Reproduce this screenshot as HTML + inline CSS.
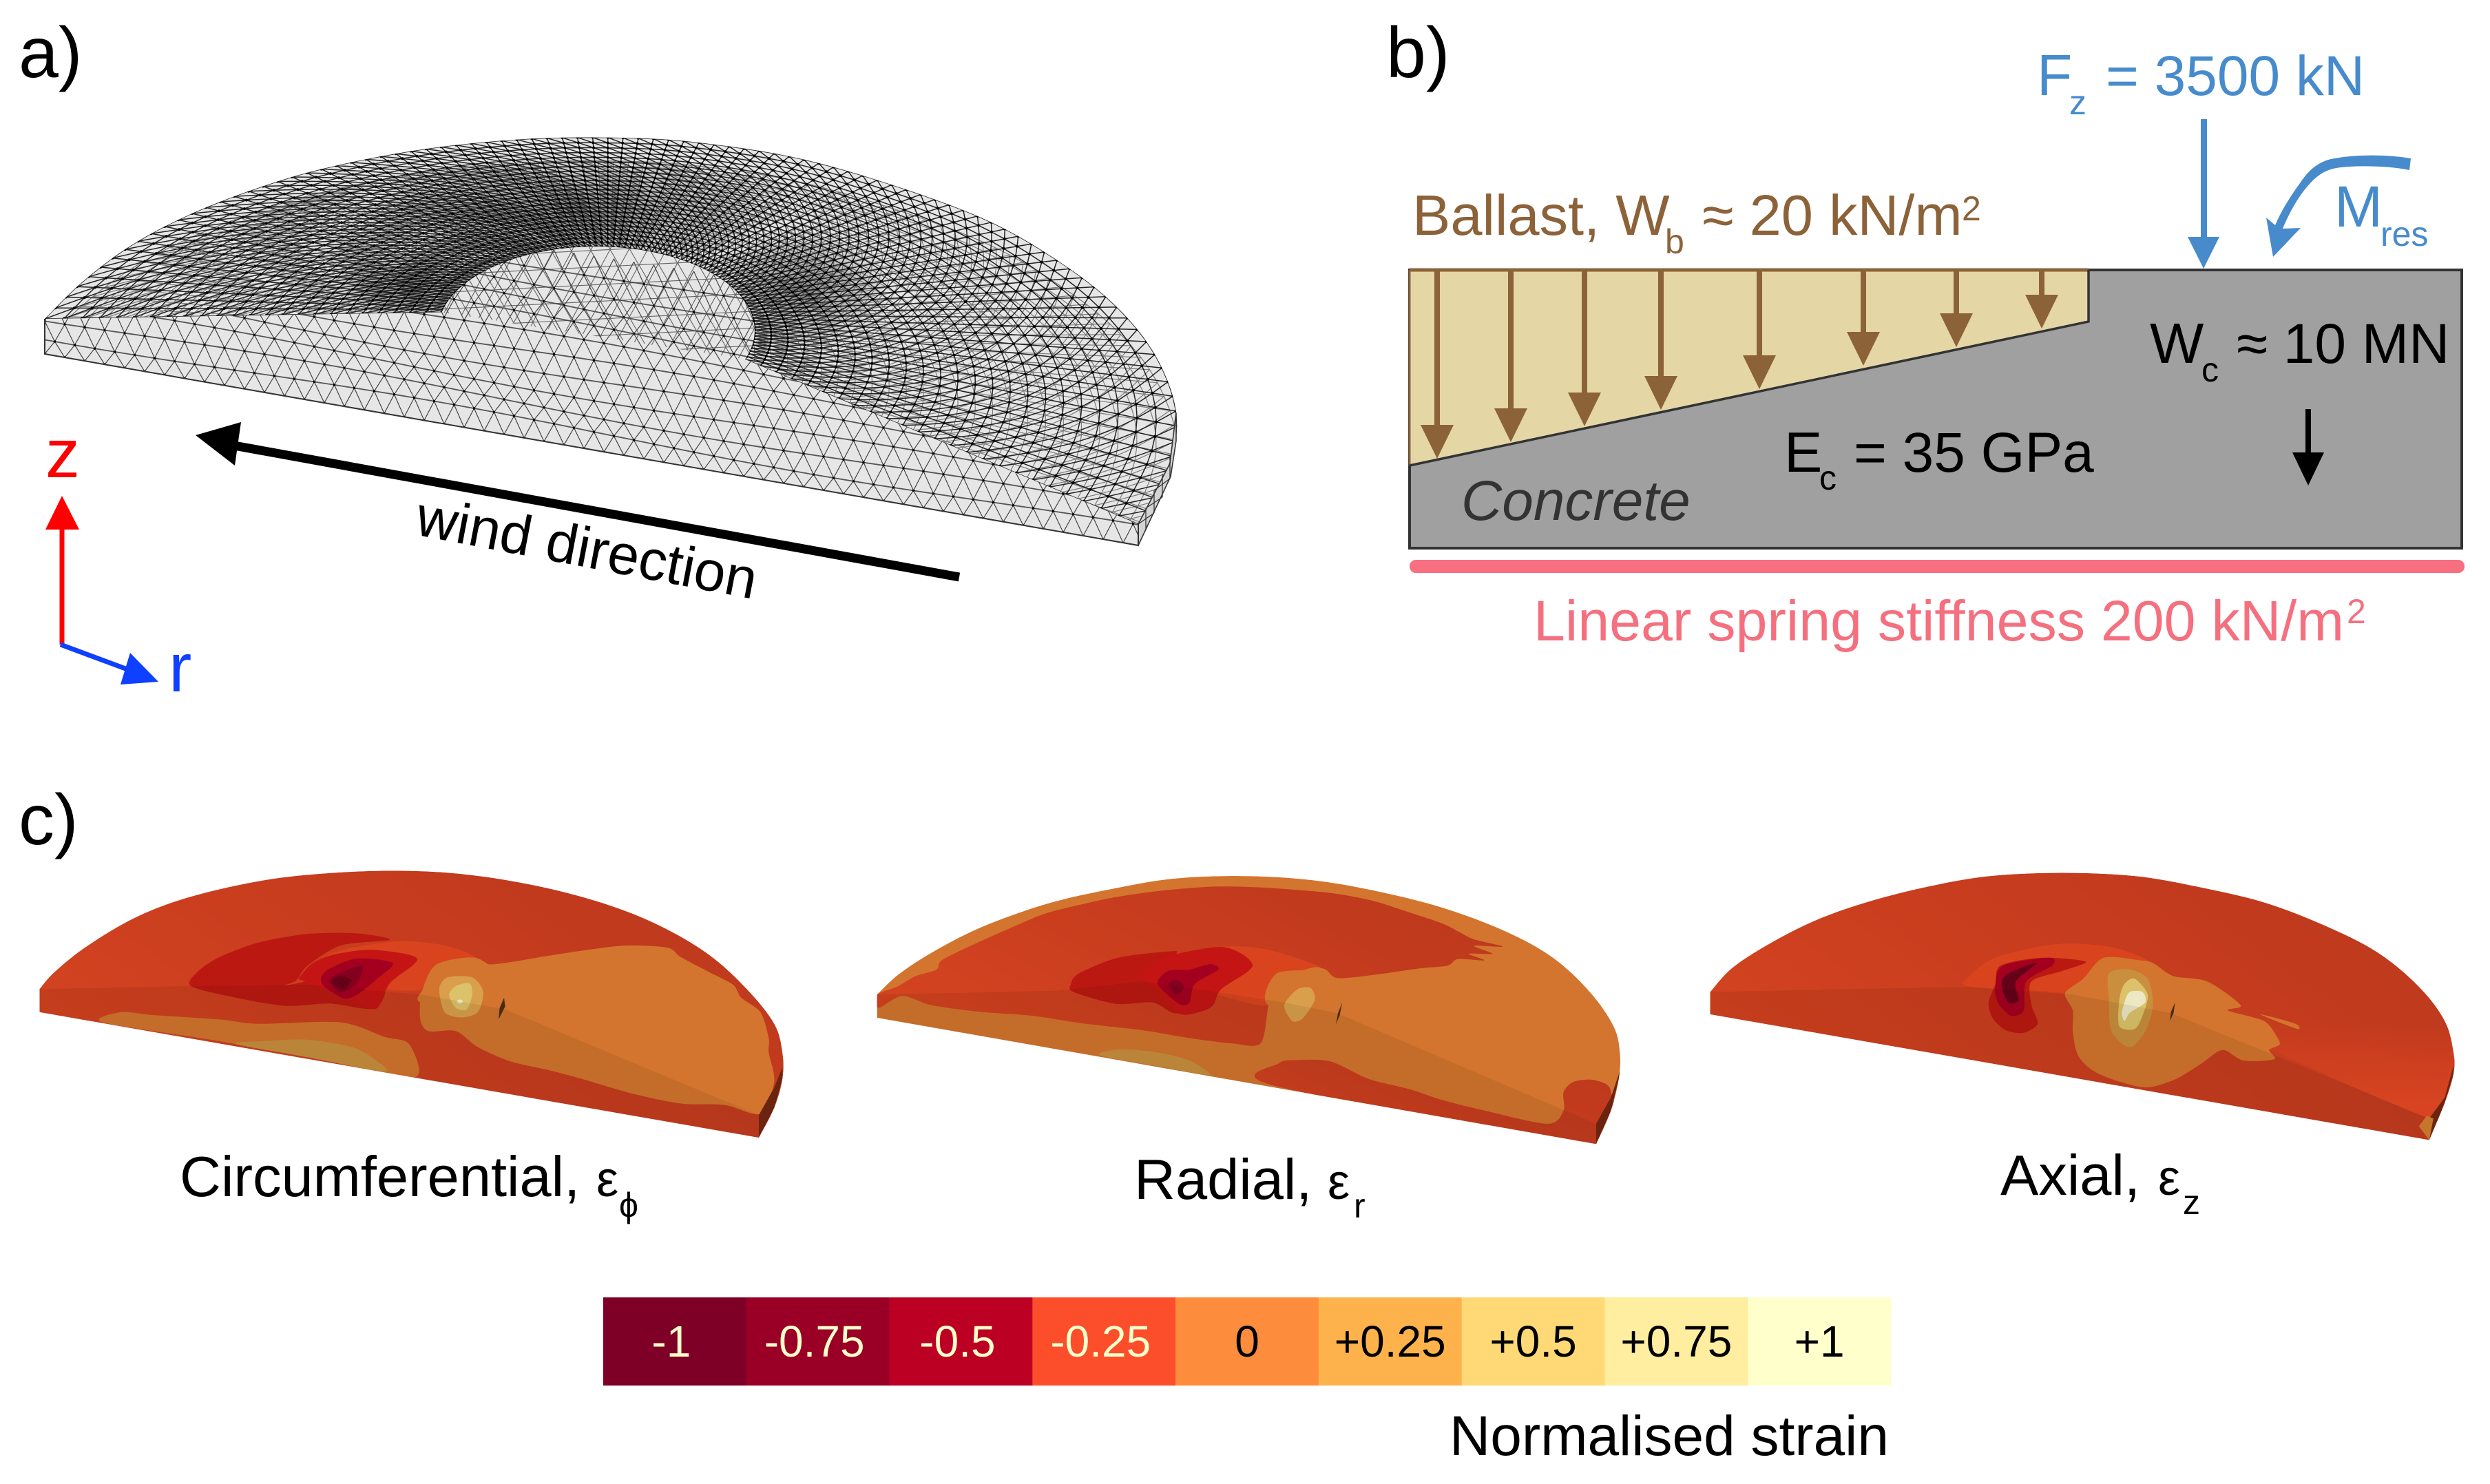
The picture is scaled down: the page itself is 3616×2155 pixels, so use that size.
<!DOCTYPE html>
<html lang="en">
<head>
<meta charset="utf-8">
<title>Foundation mesh, loads and normalised strain</title>
<style>
html,body{margin:0;padding:0;background:#fff;}
body{width:3616px;height:2155px;overflow:hidden;}
svg{display:block;font-family:"Liberation Sans",Arial,sans-serif;}
</style>
</head>
<body>
<svg id="fig" width="3616" height="2155" viewBox="0 0 3616 2155" xmlns="http://www.w3.org/2000/svg">
<defs>
<linearGradient id="redTop" x1="0" y1="0.6" x2="1" y2="0.1">
<stop offset="0" stop-color="#d34320"/><stop offset="0.55" stop-color="#c63c1e"/><stop offset="1" stop-color="#bc381d"/>
</linearGradient>
<linearGradient id="litFade" x1="0.5" y1="0.12" x2="0.5" y2="0.85">
<stop offset="0" stop-color="#d84421" stop-opacity="0"/><stop offset="1" stop-color="#d84421" stop-opacity="1"/>
</linearGradient>
<radialGradient id="blob"><stop offset="0" stop-color="#000" stop-opacity="0.38"/><stop offset="1" stop-color="#000" stop-opacity="0"/></radialGradient>
<clipPath id="meshClip"><path id="meshClipPath" d=""/></clipPath>
<clipPath id="frontClip"><path id="frontClipPath" d=""/></clipPath>
<clipPath id="hillClip"><path id="hillClipPath" d=""/></clipPath>
</defs>

<rect width="3616" height="2155" fill="#fff"/>

<!-- Panel a -->
<text x="27" y="112" font-size="104">a)</text>
<g id="meshGroup"></g>
<g>
<line x1="1393" y1="838" x2="340" y2="647" stroke="#000" stroke-width="13"/>
<polygon points="284,632 350,613 341,676" fill="#000"/>
</g>
<text transform="translate(601,776) rotate(10.8)" font-size="82">wind direction</text>
<g>
<line x1="90" y1="936" x2="90" y2="765" stroke="#f00" stroke-width="7"/>
<polygon points="90,720 66,769 115,769" fill="#f00"/>
<line x1="88" y1="936" x2="185" y2="972" stroke="#0f3fff" stroke-width="7"/>
<polygon points="230,990 189,948 175,994" fill="#0f3fff"/>
<text x="66" y="693" font-size="100" fill="#f00">z</text>
<text x="245" y="1004" font-size="100" fill="#0f3fff">r</text>
</g>

<!-- Panel b -->
<text x="2013" y="112" font-size="104">b)</text>
<g>
<rect x="2047" y="392" width="1528" height="404" fill="#a0a0a0" stroke="#333" stroke-width="4"/>
<polygon points="2047,392 3033,392 3033,467 2047,676" fill="#e5d6a6"/>
<line x1="2047" y1="392" x2="3033" y2="392" stroke="#8c6239" stroke-width="5"/>
<line x1="2047" y1="392" x2="2047" y2="676" stroke="#8c6239" stroke-width="3"/>
<polyline points="2047,676 3033,467 3033,392" fill="none" stroke="#333" stroke-width="3.5"/>
</g>
<g stroke="none" fill="#8c6239">
<g><rect x="2083" y="392" width="8" height="230"/><polygon points="2087,666 2063,617 2111,617"/></g>
<g><rect x="2190" y="392" width="8" height="206"/><polygon points="2194,642 2170,593 2218,593"/></g>
<g><rect x="2297" y="392" width="8" height="183"/><polygon points="2301,619 2277,570 2325,570"/></g>
<g><rect x="2408" y="392" width="8" height="159"/><polygon points="2412,595 2388,546 2436,546"/></g>
<g><rect x="2551" y="392" width="8" height="129"/><polygon points="2555,565 2531,516 2579,516"/></g>
<g><rect x="2702" y="392" width="8" height="95"/><polygon points="2706,531 2682,482 2730,482"/></g>
<g><rect x="2837" y="392" width="8" height="68"/><polygon points="2841,504 2817,455 2865,455"/></g>
<g><rect x="2961" y="392" width="8" height="41"/><polygon points="2965,477 2941,428 2989,428"/></g>
</g>
<g fill="#8c6239">
<text x="2051" y="341" font-size="83">Ballast, W</text>
<text x="2418" y="368" font-size="50">b</text>
<text x="2472" y="341" font-size="83">≈ 20 kN/m</text>
<text x="2849" y="320" font-size="50">2</text>
</g>
<g fill="#478bcd">
<text x="2958" y="138" font-size="84">F</text>
<text x="3005" y="166" font-size="50">z</text>
<text x="3058" y="138" font-size="82">= 3500 kN</text>
<rect x="3196" y="173" width="9" height="175"/>
<polygon points="3200,390 3177,344 3223,344"/>
</g>
<g fill="#478bcd">
<path d="M3501,230 C3465,224 3420,224 3385,231 C3365,236 3352,248 3340,266 C3324,288 3312,308 3304,327 L3291,316 L3301,373 L3341,331 L3315,332 C3324,310 3338,284 3355,266 C3368,252 3380,245 3400,243 C3430,240 3470,241 3499,247 Z"/>
<text x="3390" y="329" font-size="84">M</text>
<text x="3457" y="357" font-size="50">res</text>
</g>
<g fill="#000">
<text x="3122" y="527" font-size="83">W</text>
<text x="3197" y="554" font-size="50">c</text>
<text x="3248" y="527" font-size="82">≈ 10 MN</text>
<rect x="3348" y="594" width="8" height="68"/>
<polygon points="3352,705 3329,657 3375,657"/>
</g>
<g fill="#000">
<text x="2591" y="685" font-size="83">E</text>
<text x="2642" y="711" font-size="50">c</text>
<text x="2692" y="685" font-size="82">= 35 GPa</text>
</g>
<text x="2122" y="755" font-size="82" font-style="italic" fill="#333">Concrete</text>
<rect x="2047" y="813" width="1532" height="19" rx="9" fill="#f76f80"/>
<g fill="#f4707f">
<text x="2227" y="930" font-size="82.5">Linear spring stiffness 200 kN/m</text>
<text x="3408" y="905" font-size="50">2</text>
</g>

<!-- Panel c -->
<text x="27" y="1226" font-size="104">c)</text>
<g id="disks"></g>
<g>
<text x="261" y="1737" font-size="83">Circumferential,</text>
<text x="866" y="1737" font-size="72">ε</text>
<text x="899" y="1767" font-size="50">ϕ</text>
</g>
<g>
<text x="1647" y="1741" font-size="83">Radial,</text>
<text x="1928" y="1741" font-size="72">ε</text>
<text x="1966" y="1768" font-size="50">r</text>
</g>
<g>
<text x="2905" y="1735" font-size="83">Axial,</text>
<text x="3134" y="1735" font-size="72">ε</text>
<text x="3170" y="1763" font-size="50">z</text>
</g>

<g id="colorbar"></g>
<text x="2743" y="2113" text-anchor="end" font-size="82">Normalised strain</text>

<script>
// ---- colour bar values ----
const legendValues = [-1, -0.75, -0.5, -0.25, 0, 0.25, 0.5, 0.75, 1];
const legendLabels = ['-1', '-0.75', '-0.5', '-0.25', '0', '+0.25', '+0.5', '+0.75', '+1'];
const legendColors = ['#7f0026', '#9a0026', '#bb0024', '#fc4e2a', '#fd8d3c', '#feb24c', '#fed976', '#ffeda0', '#ffffcc'];

const NS = 'http://www.w3.org/2000/svg';
const legendLeft = 876, legendRight = 2746;
function legendEdge(v) {
  return legendLeft + (v + 1.125) / 2.25 * (legendRight - legendLeft);
}
const colorbar = document.getElementById('colorbar');
legendValues.forEach(function (v, i) {
  const cell = document.createElementNS(NS, 'rect');
  
  
  cell.setAttribute('x', legendEdge(v - 0.125));
  cell.setAttribute('y', 1884);
  cell.setAttribute('width', legendEdge(v + 0.125) - legendEdge(v - 0.125) + 0.5);
  cell.setAttribute('height', 128);
  cell.setAttribute('fill', legendColors[i]);
  colorbar.appendChild(cell);
  const label = document.createElementNS(NS, 'text');
  
  
  label.setAttribute('x', legendEdge(v) + (v < 0 ? -5 : 0));
  label.setAttribute('y', 1970);
  label.setAttribute('text-anchor', 'middle');
  label.setAttribute('font-size', 64);
  label.setAttribute('fill', v < 0 ? '#ffffcc' : '#000');
  label.textContent = legendLabels[i];
  colorbar.appendChild(label);
});

// ---- smoothing helpers ----
function crPoint(a, b, c, d, t) {
  const t2 = t * t, t3 = t2 * t;
  return [
    0.5 * (2 * b[0] + (c[0] - a[0]) * t + (2 * a[0] - 5 * b[0] + 4 * c[0] - d[0]) * t2 + (3 * b[0] - a[0] - 3 * c[0] + d[0]) * t3),
    0.5 * (2 * b[1] + (c[1] - a[1]) * t + (2 * a[1] - 5 * b[1] + 4 * c[1] - d[1]) * t2 + (3 * b[1] - a[1] - 3 * c[1] + d[1]) * t3)
  ];
}
function smoothClosed(p) {
  const n = p.length;
  let d = 'M' + p[0][0] + ',' + p[0][1];
  for (let i = 0; i < n; i++) {
    const a = p[(i - 1 + n) % n], b = p[i], c = p[(i + 1) % n], e = p[(i + 2) % n];
    const tn = 0.14;
    d += 'C' + (b[0] + (c[0] - a[0]) * tn).toFixed(1) + ',' + (b[1] + (c[1] - a[1]) * tn).toFixed(1) + ' ' +
      (c[0] - (e[0] - b[0]) * tn).toFixed(1) + ',' + (c[1] - (e[1] - b[1]) * tn).toFixed(1) + ' ' + c[0] + ',' + c[1];
  }
  return d + 'Z';
}
function straight(p) {
  return 'M' + p.map(function (q) { return q[0] + ',' + q[1]; }).join('L') + 'Z';
}

// ---- mesh of panel a ----
const outerEdge = [[65,463],[119,410],[188,358],[268,315],[363,277],[469,245],[613,217],[762,202],[900,200],[1014,207],[1160,230],[1306,272],[1442,324],[1550,388],[1626,450],[1680,520],[1708,599],[1699,673],[1653,761]];
const dense = [];
for (let i = 0; i < outerEdge.length - 1; i++) {
  const a = outerEdge[Math.max(i - 1, 0)], b = outerEdge[i], c = outerEdge[i + 1], d = outerEdge[Math.min(i + 2, outerEdge.length - 1)];
  for (let k = 0; k < 12; k++) dense.push(crPoint(a, b, c, d, k / 12));
}
dense.push(outerEdge[outerEdge.length - 1]);
const cum = [0];
for (let i = 1; i < dense.length; i++) cum.push(cum[i - 1] + Math.hypot(dense[i][0] - dense[i - 1][0], dense[i][1] - dense[i - 1][1]));
const totalLen = cum[cum.length - 1];
function outer(u) {
  const L = u * totalLen;
  let i = 1;
  while (i < cum.length - 1 && cum[i] < L) i++;
  const f = (L - cum[i - 1]) / Math.max(cum[i] - cum[i - 1], 1e-6);
  return [dense[i - 1][0] + (dense[i][0] - dense[i - 1][0]) * f, dense[i - 1][1] + (dense[i][1] - dense[i - 1][1]) * f];
}
function inner(u) {
  const phi = (Math.PI - 0.22) + u * (-0.35 - (Math.PI - 0.22));
  return [866 + 230 * Math.cos(phi), 480 - 122 * Math.sin(phi)];
}
function meshPt(s, u) {
  const o = outer(u), n = inner(u);
  return [o[0] + (n[0] - o[0]) * s, o[1] + (n[1] - o[1]) * s];
}
function buildTop(nu, ns, dx, dy, du) {
  let d = '';
  let dots = '';
  const grid = [];
  for (let i = 0; i <= ns; i++) {
    const row = [];
    for (let j = 0; j <= nu; j++) {
      let u = j / nu + du;
      u = Math.max(0, Math.min(1, u));
      const q = meshPt(Math.pow(i / ns, 0.95), u);
      row.push([(q[0] + dx).toFixed(1), (q[1] + dy).toFixed(1)]);
    }
    grid.push(row);
  }
  for (let i = 0; i <= ns; i++) {
    d += 'M' + grid[i].map(function (q) { return q[0] + ',' + q[1]; }).join('L');
    for (let j = 0; j <= nu; j++) dots += 'M' + grid[i][j][0] + ',' + grid[i][j][1] + 'h0';
  }
  for (let j = 0; j <= nu; j++) {
    let seg = [];
    for (let i = 0; i <= ns; i++) seg.push(grid[i][j][0] + ',' + grid[i][j][1]);
    d += 'M' + seg.join('L');
  }
  for (let i = 0; i < ns; i++) for (let j = 0; j < nu; j++) {
    const a = grid[i][j], b = grid[i + 1][j + 1];
    d += 'M' + a[0] + ',' + a[1] + 'L' + b[0] + ',' + b[1];
  }
  return { lines: d, dots: dots };
}
function arcPts(n) {
  const out = [];
  for (let i = 0; i <= n; i++) out.push(inner(i / n).map(function (v) { return +v.toFixed(1); }));
  return out;
}
const hillArc = arcPts(60);
const outerDense = dense.map(function (q) { return [+q[0].toFixed(1), +q[1].toFixed(1)]; });
const topOutline = outerDense.concat([[1653, 792], [65, 514]]);
document.getElementById('meshClipPath').setAttribute('d', straight(topOutline));
const frontPoly = [[65, 463]].concat(hillArc, [[1653, 761], [1653, 792], [65, 514]]);
document.getElementById('frontClipPath').setAttribute('d', straight(frontPoly));
document.getElementById('hillClipPath').setAttribute('d', straight(hillArc));

const meshGroup = document.getElementById('meshGroup');
function addPath(parent, d, attrs, name) {
  const el = document.createElementNS(NS, 'path');
  
  
  el.setAttribute('d', d);
  Object.keys(attrs).forEach(function (k) { el.setAttribute(k, attrs[k]); });
  parent.appendChild(el);
  return el;
}
addPath(meshGroup, straight(topOutline), { fill: '#e6e6e6' }, 'mesh-base');
const clipTop = document.createElementNS(NS, 'g');


clipTop.setAttribute('clip-path', 'url(#meshClip)');
meshGroup.appendChild(clipTop);
const lowerLayer = buildTop(92, 24, 0, 34, 0.004);
const upperLayer = buildTop(92, 24, 0, 0, 0);
addPath(clipTop, lowerLayer.lines, { fill: 'none', stroke: '#333', 'stroke-width': 1.2, 'stroke-opacity': 0.6 }, 'mesh-lower-layer');
addPath(clipTop, upperLayer.lines, { fill: 'none', stroke: '#222', 'stroke-width': 1.5 }, 'mesh-upper-layer');
addPath(clipTop, upperLayer.dots, { fill: 'none', stroke: '#000', 'stroke-width': 4, 'stroke-linecap': 'round' }, 'mesh-upper-nodes');
// darker bundles where the mesh lines crowd together
const darkBundleA = document.createElementNS(NS, 'ellipse');


darkBundleA.setAttribute('cx', 830);
darkBundleA.setAttribute('cy', 305);
darkBundleA.setAttribute('rx', 300);
darkBundleA.setAttribute('ry', 85);
darkBundleA.setAttribute('fill', 'url(#blob)');
clipTop.appendChild(darkBundleA);
const darkBundleB = document.createElementNS(NS, 'ellipse');


darkBundleB.setAttribute('cx', 1165);
darkBundleB.setAttribute('cy', 420);
darkBundleB.setAttribute('rx', 130);
darkBundleB.setAttribute('ry', 85);
darkBundleB.setAttribute('fill', 'url(#blob)');
clipTop.appendChild(darkBundleB);
const darkBundleC = document.createElementNS(NS, 'ellipse');


darkBundleC.setAttribute('cx', 590);
darkBundleC.setAttribute('cy', 415);
darkBundleC.setAttribute('rx', 110);
darkBundleC.setAttribute('ry', 50);
darkBundleC.setAttribute('fill', 'url(#blob)');
clipTop.appendChild(darkBundleC);

// front face of the foundation
addPath(meshGroup, straight(frontPoly), { fill: '#e6e6e6' }, 'mesh-front-face');
const clipFront = document.createElementNS(NS, 'g');


clipFront.setAttribute('clip-path', 'url(#frontClip)');
meshGroup.appendChild(clipFront);
function rowY(x, k) {
  return 514 + 0.1752 * (x - 65) - 25.5 * k;
}
let rows = '', zig = '', nodes = '';
for (let k = 0; k < 11; k++) {
  const off = (k % 2) * 14.5;
  let row = [];
  for (let j = -1; j < 60; j++) {
    const x = 65 + 29 * j + off;
    const wave = k > 0 ? 5 * Math.sin(x / 170 + k) : 0;
    const y = rowY(x, k) + wave;
    row.push(x.toFixed(1) + ',' + y.toFixed(1));
    nodes += 'M' + x.toFixed(1) + ',' + y.toFixed(1) + 'h0';
    const xl = x - 14.5, xr = x + 14.5;
    const wl = 5 * Math.sin(xl / 170 + k + 1), wr = 5 * Math.sin(xr / 170 + k + 1);
    zig += 'M' + x.toFixed(1) + ',' + y.toFixed(1) + 'L' + xl.toFixed(1) + ',' + (rowY(xl, k + 1) + wl).toFixed(1);
    zig += 'M' + x.toFixed(1) + ',' + y.toFixed(1) + 'L' + xr.toFixed(1) + ',' + (rowY(xr, k + 1) + wr).toFixed(1);
  }
  rows += 'M' + row.join('L');
}
addPath(clipFront, zig, { fill: 'none', stroke: '#444', 'stroke-width': 1.2 }, 'front-triangle-edges');
addPath(clipFront, rows, { fill: 'none', stroke: '#555', 'stroke-width': 1.8 }, 'front-rows');
addPath(clipFront, nodes, { fill: 'none', stroke: '#000', 'stroke-width': 3.4, 'stroke-linecap': 'round' }, 'front-nodes');

const clipHill = document.createElementNS(NS, 'g');


clipHill.setAttribute('clip-path', 'url(#hillClip)');
meshGroup.appendChild(clipHill);
let hillLines = '';
for (let k = 0; k < 10; k++) {
  const off = (k % 2) * 14;
  for (let j = -2; j < 22; j++) {
    const x = 620 + 28 * j + off, y = 350 + 25 * k - 0.05 * 28 * j;
    const xb = x + 14, yb = y + 25 - 0.7;
    hillLines += 'M' + x + ',' + y + 'L' + xb + ',' + yb + 'L' + (xb + 14) + ',' + (y - 0.7 * 2) + 'L' + x + ',' + y;
  }
}
addPath(clipHill, hillLines, { fill: 'none', stroke: '#444', 'stroke-width': 1.1, 'stroke-opacity': 0.8 }, 'hill-triangle-edges');

addPath(meshGroup, 'M1653,761L1699,673L1708,599L1708,640L1700,692L1653,792Z', { fill: '#d4d4d4', stroke: '#333', 'stroke-width': 1.6 }, 'mesh-end-wall');
addPath(meshGroup, 'M1664,738L1664,770M1676,712L1676,745M1688,688L1688,722M1699,660L1699,695M1653,761L1676,745M1664,738L1688,722M1676,712L1699,695', { fill: 'none', stroke: '#333', 'stroke-width': 1.3 }, 'mesh-end-wall-edges');
addPath(meshGroup, 'M65,463V514L1653,792V761', { fill: 'none', stroke: '#333', 'stroke-width': 2 }, 'mesh-front-outline');

// ---- strain contour plots of panel c ----
const RED = 'url(#redTop)', ORANGE = '#d3752f', OCHRE = '#c98f3e', HILL = '#d9441f', DEEP = '#bb1812', CRIM = '#c41514', WINE = '#a30020', DARK = '#83001f', BLACKRED = '#650018', AMBER = '#d99f4c', PALE = '#dcc26a', CREAM = '#ece8c4', WALL = '#6b2410', NOTCH = '#4a2a10';

const disk1 = {
  name: 'circumferential-strain-plot', tf: 'matrix(0.7974,0,0,0.4209,0,1150)',
  outline: [[72,680],[100,620],[160,530],[250,430],[350,360],[480,305],[600,280],[730,272],[850,285],[980,325],[1100,385],[1200,460],[1290,560],[1360,680],[1410,800],[1425,900],[1425,990],[1410,1090],[1382,1193],[72,760]],
  base: RED,
  layers: [
    [ORANGE, [[895,595],[1000,565],[1070,545],[1140,530],[1215,537],[1240,570],[1290,620],[1335,665],[1350,710],[1385,760],[1400,850],[1400,900],[1410,1000],[1385,1110],[1320,1080],[1240,1075],[1150,1040],[1060,990],[1000,960],[930,930],[870,880],[830,825],[780,825],[765,780],[770,680],[800,600],[860,570]]],
    [ORANGE, [[188,795],[220,760],[280,770],[400,785],[470,800],[620,795],[700,845],[745,870],[755,985],[600,930],[400,860]]],
    [OCHRE, [[430,870],[480,860],[560,855],[640,880],[680,920],[700,965],[560,915]]],
    [HILL, [[545,640],[600,560],[680,525],[740,515],[810,530],[865,572],[800,600],[770,680],[700,680],[620,650]]],
    [ORANGE, [[770,680],[795,595],[865,572],[905,625],[920,690],[912,775],[770,730]]],
    [DEEP, [[348,670],[360,620],[400,570],[470,520],[560,490],[650,488],[710,510],[620,530],[560,600],[540,650],[520,668],[600,640],[640,660],[700,680],[680,748],[600,730],[520,738],[430,710]]],
    [CRIM, [[545,640],[570,590],[610,560],[680,545],[760,575],[710,660],[685,748],[640,720],[590,680],[550,650]]],
    [WINE, [[585,640],[600,610],[650,575],[715,590],[690,640],[650,700],[625,712],[590,670]]],
    [DARK, [[600,650],[625,620],[660,600],[650,660],[620,690]]],
    [BLACKRED, [[603,655],[620,635],[640,650],[625,680]]],
    [AMBER, [[800,680],[815,640],[860,640],[880,690],[870,760],[840,778],[810,760]]],
    [PALE, [[818,700],[830,670],[855,660],[860,700],[850,750],[830,745]]],
    [CREAM, [[832,722],[838,716],[843,724],[837,730]]]
  ],
  front: [[72,680],[340,670],[560,665],[770,700],[920,750],[1382,1115],[1382,1193],[72,760]],
  sharp: [
    [WALL, [[1382,1115],[1410,1020],[1425,950],[1425,990],[1410,1090],[1382,1193]]],
    [NOTCH, [[918,710],[920,740],[908,785],[910,745]]]
  ]
};
const disk2 = {
  name: 'radial-strain-plot', tf: 'matrix(0.7651,0,0,0.3827,1230,1230)',
  outline: [[57,560],[100,480],[170,390],[260,300],[380,215],[500,160],[620,120],[750,110],[880,125],[1000,165],[1130,230],[1250,320],[1340,420],[1410,550],[1455,680],[1467,780],[1465,880],[1450,1000],[1422,1127],[57,648]],
  base: ORANGE,
  layers: [
    [RED, [[57,560],[95,530],[130,490],[170,465],[180,430],[240,370],[330,290],[380,250],[440,220],[510,190],[600,165],[700,150],[800,155],[920,175],[1000,205],[1070,250],[1130,290],[1160,320],[1190,350],[1245,378],[1190,375],[1225,405],[1180,405],[1210,430],[1160,425],[1140,450],[1090,460],[1000,485],[930,497],[900,460],[815,480],[800,600],[785,745],[730,745],[650,725],[560,695],[450,670],[350,640],[250,625],[160,600],[105,565],[60,610]]],
    [RED, [[810,905],[820,820],[860,808],[920,815],[990,880],[1070,920],[1130,960],[1210,1000],[1330,1050],[1360,1000],[1360,930],[1380,890],[1420,885],[1450,930],[1422,1127]]],
    [OCHRE, [[480,790],[520,768],[590,780],[650,810],[688,865],[600,835]]],
    [HILL, [[555,490],[600,420],[715,378],[800,390],[900,460],[815,480],[800,600],[700,560]]],
    [DEEP, [[425,520],[440,480],[515,420],[620,395],[630,405],[715,380],[770,450],[710,540],[695,600],[670,625],[620,630],[580,590],[510,595],[430,550]]],
    [CRIM, [[555,490],[600,420],[715,380],[770,450],[710,535],[695,590],[670,625],[630,632],[590,545],[555,505]]],
    [WINE, [[590,520],[610,470],[650,465],[690,445],[705,465],[660,520],[650,590],[630,595]]],
    [DARK, [[610,520],[625,505],[640,530],[625,560]]],
    [ORANGE, [[810,490],[860,470],[900,460],[940,560],[930,625],[800,600]]],
    [AMBER, [[830,600],[855,540],[880,535],[888,580],[865,650],[845,660]]]
  ],
  front: [[57,560],[400,545],[560,510],[700,550],[830,590],[930,630],[1422,1050],[1422,1127],[57,648]],
  sharp: [
    [WALL, [[1422,1050],[1450,950],[1467,850],[1465,880],[1450,1000],[1422,1127]]],
    [NOTCH, [[940,590],[935,640],[928,672],[932,630]]]
  ]
};
const disk3 = {
  name: 'axial-strain-plot', tf: 'matrix(0.7502,0,0,0.3827,2440,1230)',
  outline: [[58,550],[100,460],[170,370],[260,280],[360,210],[480,150],[600,110],[740,98],[880,110],[1000,150],[1130,210],[1250,300],[1350,400],[1430,530],[1480,660],[1497,780],[1497,860],[1480,970],[1450,1112],[58,635]],
  base: RED,
  layers: [
    ['url(#litFade)', [[1040,640],[1497,700],[1497,960],[1450,1030]]],
    [HILL, [[560,490],[610,420],[720,370],[820,375],[900,425],[960,540],[950,630],[745,555],[560,530]]],
    [ORANGE, [[745,555],[780,500],[820,420],[890,430],[915,440],[955,490],[1020,510],[1085,600],[1060,620],[1130,660],[1155,720],[1160,750],[1140,770],[1150,805],[1090,810],[1050,770],[1010,820],[960,880],[905,912],[850,890],[800,850],[770,790],[760,700],[760,620]]],
    [ORANGE, [[1125,635],[1190,670],[1195,690],[1140,650]]],
    [DEEP, [[597,590],[610,520],[620,450],[700,420],[785,435],[740,470],[680,510],[680,600],[692,670],[665,705],[630,695],[605,650]]],
    [WINE, [[610,530],[625,450],[715,420],[720,450],[670,510],[665,620],[640,640],[615,590]]],
    [BLACKRED, [[622,520],[635,480],[690,440],[650,510],[655,580],[635,590]]],
    [OCHRE, [[835,700],[830,580],[830,480],[870,465],[905,500],[915,600],[900,700],[870,760]]],
    [PALE, [[850,680],[850,580],[860,520],[880,500],[905,560],[895,640],[880,690]]],
    [CREAM, [[855,630],[860,590],[870,550],[895,550],[900,590],[870,630],[860,660]]]
  ],
  front: [[58,550],[560,530],[760,560],[950,630],[1450,1030],[1450,1112],[58,635]],
  sharp: [
    [WALL, [[1450,1030],[1480,950],[1497,830],[1497,860],[1480,970],[1450,1112]]],
    ['#c6752d', [[1430,1060],[1445,1020],[1458,1030],[1450,1112]]],
    [NOTCH, [[958,590],[955,630],[948,660],[950,625]]]
  ]
};
const disksHost = document.getElementById('disks');
[disk1, disk2, disk3].forEach(function (disk, idx) {
  const clip = document.createElementNS(NS, 'clipPath');
  clip.setAttribute('id', 'diskClip' + idx);
  const cp = document.createElementNS(NS, 'path');
  // outline arc is smooth between the two chord ends
  let od = 'M' + disk.outline[0][0] + ',' + disk.outline[0][1];
  const arc = disk.outline.slice(0, disk.outline.length - 1);
  for (let i = 0; i < arc.length - 1; i++) {
    const a = arc[Math.max(i - 1, 0)], b = arc[i], c = arc[i + 1], e = arc[Math.min(i + 2, arc.length - 1)];
    for (let k = 1; k <= 8; k++) {
      const q = crPoint(a, b, c, e, k / 8);
      od += 'L' + q[0].toFixed(1) + ',' + q[1].toFixed(1);
    }
  }
  const last = disk.outline[disk.outline.length - 1];
  od += 'L' + last[0] + ',' + last[1] + 'Z';
  cp.setAttribute('d', od);
  clip.appendChild(cp);
  document.querySelector('defs').appendChild(clip);

  const g = document.createElementNS(NS, 'g');
  
  
  g.setAttribute('transform', disk.tf);
  g.setAttribute('clip-path', 'url(#diskClip' + idx + ')');
  disksHost.appendChild(g);
  addPath(g, od, { fill: disk.base }, 'plot-base');
  disk.layers.forEach(function (l) {
    addPath(g, smoothClosed(l[1]), { fill: l[0] }, 'strain-contour');
  });
  addPath(g, straight(disk.front), { fill: '#000', 'fill-opacity': 0.065 }, 'front-face-shade');
  disk.sharp.forEach(function (l) {
    addPath(g, straight(l[1]), { fill: l[0] }, 'plot-wall');
  });
});
</script>
</svg>
</body>
</html>
